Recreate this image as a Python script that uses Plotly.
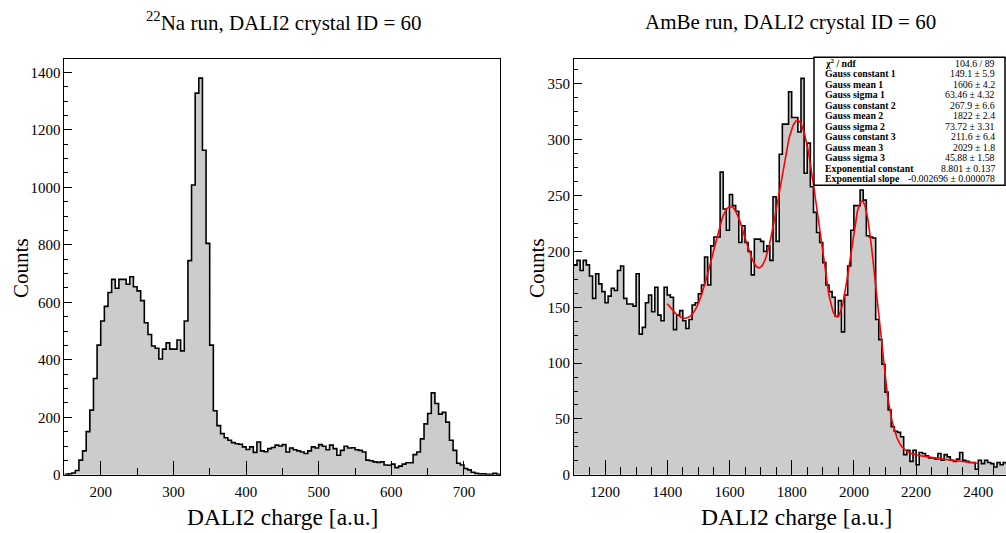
import numpy as np
import plotly.graph_objects as go

# ---------------- data ----------------
# 22Na run: 5-unit bins starting at 150
na_bin_start = 150
na_bin_width = 5
na_counts = [
    2, 3, 6, 15, 51, 83, 150, 225, 335, 451,
    535, 586, 634, 680, 649, 680, 680, 663, 689, 654,
    640, 606, 529, 488, 448, 440, 403, 437, 459, 437,
    437, 469, 431, 535, 745, 1008, 1328, 1380, 1129, 805,
    451, 223, 171, 143, 129, 120, 112, 108, 106, 97,
    88, 97, 78, 114, 83, 80, 91, 95, 103, 100,
    105, 79, 93, 87, 83, 79, 74, 83, 97, 93,
    105, 99, 87, 103, 91, 68, 85, 99, 93, 94,
    87, 85, 79, 51, 49, 45, 43, 45, 34, 33,
    37, 25, 30, 37, 42, 42, 70, 79, 125, 177,
    213, 285, 248, 211, 217, 183, 120, 85, 40, 34,
    22, 17, 9, 5, 3, 3, 2, 2, 5, 2,
]

# AmBe run: 10-unit bins starting at 1100
ambe_bin_start = 1100
ambe_bin_width = 10
ambe_counts = [
    188, 192, 183, 192, 188, 178, 158, 180, 171, 164,
    154, 160, 167, 165, 183, 187, 158, 153, 153, 151,
    180, 126, 132, 154, 161, 146, 168, 143, 138, 168,
    161, 159, 130, 143, 147, 138, 131, 139, 152, 154,
    162, 170, 195, 170, 205, 213, 213, 271, 238, 219,
    251, 241, 236, 208, 223, 208, 200, 179, 211, 211,
    209, 200, 205, 192, 249, 209, 287, 314, 314, 343,
    320, 320, 307, 355, 270, 297, 258, 235, 217, 208,
    190, 170, 164, 159, 142, 156, 128, 161, 187, 219,
    241, 241, 255, 246, 214, 213, 212, 139, 121, 99,
    74, 58, 43, 39, 38, 34, 18, 22, 12, 22,
    9, 20, 19, 17, 15, 15, 14, 19, 13, 18,
    16, 13, 12, 14, 20, 13, 12, 11, 11, 5,
    13, 10, 13, 11, 10, 7, 11, 9, 11, 10,
]

# fit parameters (3 Gaussians + exponential), fit range 1400-2400
gauss_constants = [149.1, 267.9, 211.6]
gauss_means = [1606, 1822, 2029]
gauss_sigmas = [63.46, 73.72, 45.88]
exp_constant = 8.801
exp_slope = -0.002696
fit_range = [1400, 2400]

stats_labels = ["χ<sup>2</sup> / ndf", "Gauss constant 1", "Gauss mean 1", "Gauss sigma 1",
                "Gauss constant 2", "Gauss mean 2", "Gauss sigma 2",
                "Gauss constant 3", "Gauss mean 3", "Gauss sigma 3",
                "Exponential constant", "Exponential slope"]
stats_values = ["104.6 / 89", "149.1 ± 5.9", "1606 ± 4.2", "63.46 ± 4.32",
                "267.9 ± 6.6", "1822 ± 2.4", "73.72 ± 3.31",
                "211.6 ± 6.4", "2029 ± 1.8", "45.88 ± 1.58",
                "8.801 ± 0.137", "-0.002696 ± 0.000078"]

# ---------------- figure ----------------
W, H = 1006, 533
FONT = "Liberation Serif"
FILL = "#cccccc"

def step_xy(start, width, counts):
    edges = start + width * np.arange(len(counts) + 1)
    ys = list(counts) + [counts[-1]]
    return edges, ys

fig = go.Figure()

nx, ny = step_xy(na_bin_start, na_bin_width, na_counts)
fig.add_trace(go.Scatter(x=nx, y=ny, mode="lines", line_shape="hv",
                         line=dict(color="black", width=1.6),
                         fill="tozeroy", fillcolor=FILL,
                         xaxis="x", yaxis="y", showlegend=False, hoverinfo="skip"))

ax_, ay_ = step_xy(ambe_bin_start, ambe_bin_width, ambe_counts)
fig.add_trace(go.Scatter(x=ax_, y=ay_, mode="lines", line_shape="hv",
                         line=dict(color="black", width=1.6),
                         fill="tozeroy", fillcolor=FILL,
                         xaxis="x2", yaxis="y2", showlegend=False, hoverinfo="skip"))

fx = np.linspace(fit_range[0], fit_range[1], 600)
fy = np.exp(exp_constant + exp_slope * fx)
for c, m, s in zip(gauss_constants, gauss_means, gauss_sigmas):
    fy = fy + c * np.exp(-0.5 * ((fx - m) / s) ** 2)
fig.add_trace(go.Scatter(x=fx, y=fy, mode="lines", line=dict(color="red", width=1.6),
                         xaxis="x2", yaxis="y2", showlegend=False, hoverinfo="skip"))

def px_x(p):
    return p / W

def px_y(p):
    return 1 - p / H

ydom = [px_y(482), px_y(59.5)]

common_axis = dict(showline=True, linecolor="black", linewidth=1, ticks="inside",
                   tickcolor="black", tickwidth=1, showgrid=False, zeroline=False,
                   tickfont=dict(family=FONT, size=15, color="black"))

fig.update_layout(
    width=W, height=H, margin=dict(l=0, r=0, t=0, b=0),
    paper_bgcolor="white", plot_bgcolor="white",
    xaxis=dict(domain=[px_x(64.4), px_x(500.3)], range=[150, 750], anchor="y",
               dtick=100, tick0=0, ticklen=14, mirror=True, ticklabelstandoff=3,
               minor=dict(ticks="inside", ticklen=7, dtick=50, tick0=0, tickcolor="black"),
               **common_axis),
    yaxis=dict(domain=ydom, range=[0, 1448], anchor="x",
               dtick=200, tick0=0, ticklen=8, mirror=True,
               minor=dict(ticks="inside", ticklen=4, dtick=50, tick0=0, tickcolor="black"),
               **common_axis),
    xaxis2=dict(domain=[px_x(573.9), 1.0], range=[1100, 1100 + (W - 573.9) / 0.3111], anchor="y2",
                dtick=200, tick0=0, ticklen=15, mirror=True, ticklabelstandoff=3,
                minor=dict(ticks="inside", ticklen=8, dtick=50, tick0=0, tickcolor="black"),
                **common_axis),
    yaxis2=dict(domain=ydom, range=[0, 372.7], anchor="x2",
                dtick=50, tick0=0, ticklen=8, mirror=False,
                minor=dict(ticks="inside", ticklen=4, dtick=12.5, tick0=0, tickcolor="black"),
                **common_axis),
)

ann = []
def text(x, y, s, size, angle=0, xanchor="center", yanchor="middle"):
    ann.append(dict(x=px_x(x), y=px_y(y), xref="paper", yref="paper", text=s,
                    showarrow=False, textangle=angle, xanchor=xanchor, yanchor=yanchor,
                    font=dict(family=FONT, size=size, color="black")))

text(284, 22, "<sup>22</sup>Na run, DALI2 crystal ID = 60", 21)
text(790, 22, "AmBe run, DALI2 crystal ID = 60", 21)
text(282, 525, "DALI2 charge [a.u.]", 23.5)
text(796, 525, "DALI2 charge [a.u.]", 23.5)
text(21, 272, "Counts", 21, angle=-90)
text(537, 272, "Counts", 21, angle=-90)

# stats box
fig.add_shape(type="rect", xref="paper", yref="paper",
              x0=px_x(814), x1=px_x(1005), y0=px_y(188), y1=px_y(58),
              fillcolor="white", line=dict(color="black", width=1.5), layer="above")
for i, (lab, val) in enumerate(zip(stats_labels, stats_values)):
    yy = 64 + i * 10.7
    text(823, yy, "<b>" + lab + "</b>", 9.8, xanchor="left")
    text(997, yy, val, 9.8, xanchor="right")

fig.update_layout(annotations=ann)
fig.write_html("out.html", config={"displayModeBar": False},
               post_script="document.body.style.margin='0';document.body.style.overflow='hidden';")
